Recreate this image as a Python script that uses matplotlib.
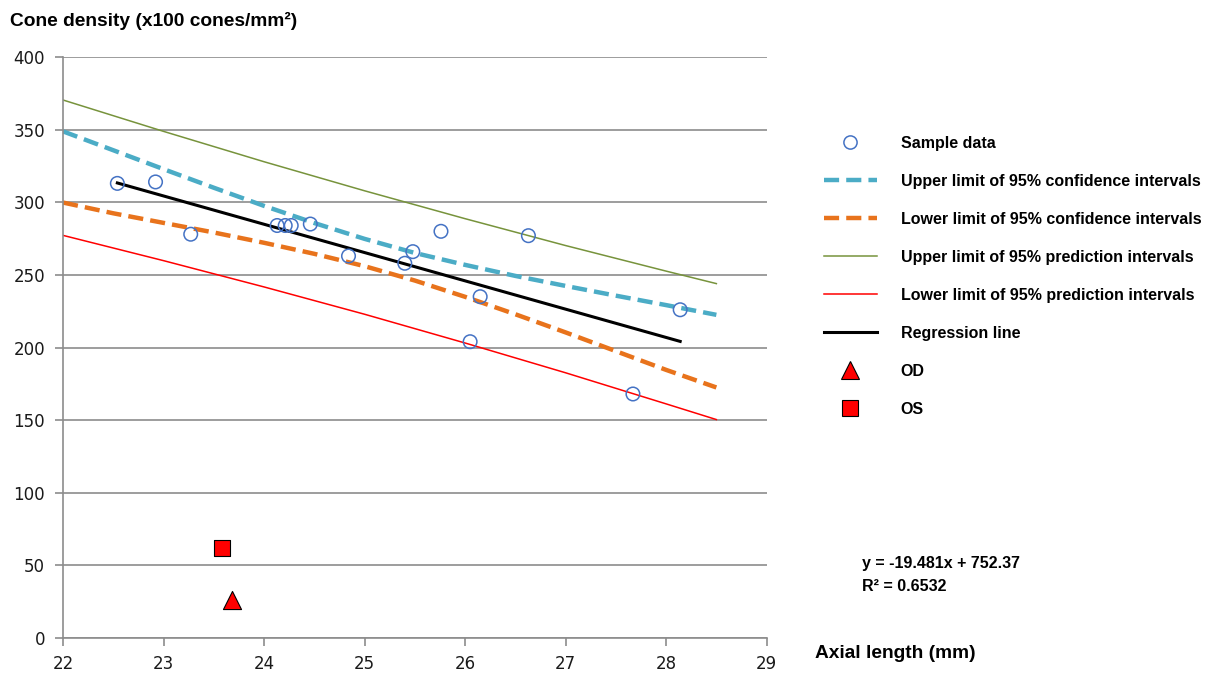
import numpy as np
import matplotlib
matplotlib.use("Agg")
import matplotlib.pyplot as plt
from matplotlib.lines import Line2D

plt.rcParams['font.family'] = ['Liberation Sans', 'DejaVu Sans']

# sample data
axial = [22.54, 22.92, 23.27, 24.13, 24.21, 24.27, 24.46, 24.84, 25.40, 25.48,
         25.76, 26.05, 26.15, 26.63, 27.67, 28.14]
density = [313, 314, 278, 284, 284, 284, 285, 263, 258, 266,
           280, 204, 235, 277, 168, 226]

# regression line end points
reg_x = [22.54, 28.14]
reg_y = [313.3, 204.2]

# confidence interval limits
ci_x = [22, 22.5, 23, 23.5, 24, 24.5, 25, 25.5, 26, 26.5, 27, 27.5, 28, 28.5]
ci_up = [348.8, 335.8, 322.8, 310.0, 297.5, 285.7, 274.8, 265.1, 256.9,
         249.3, 242.4, 235.7, 229.2, 222.5]
ci_low = [299.8, 292.4, 285.8, 279.2, 272.1, 264.5, 256.0, 246.1, 234.9,
          222.9, 210.4, 197.5, 184.6, 172.5]

# prediction interval limits
pi_x = [22, 23, 24, 25, 26, 27, 28, 28.5]
pi_up = [370.4, 348.8, 327.9, 307.9, 288.7, 270.2, 252.6, 244.0]
pi_low = [277.2, 259.8, 241.7, 222.9, 203.1, 182.6, 161.2, 150.4]

# the two eyes
od_x, od_y = [23.68], [26]
os_x, os_y = [23.58], [62]

c_blue = '#4472C4'
c_cyan = '#4BACC6'
c_orange = '#E8731C'
c_olive = '#77933C'
c_red = '#FF0000'
c_grey = '#8C8C8C'

fig = plt.figure(figsize=(12.13, 6.74), dpi=100)
ax = fig.add_axes([0.052, 0.0534, 0.580, 0.862])

ax.plot(pi_x, pi_up, color=c_olive, lw=1.1)
ax.plot(pi_x, pi_low, color=c_red, lw=1.1)
ax.plot(ci_x, ci_up, color=c_cyan, lw=3.2, dashes=(3.4, 1.6))
ax.plot(ci_x, ci_low, color=c_orange, lw=3.2, dashes=(3.4, 1.6))
ax.plot(reg_x, reg_y, color='black', lw=2.2)
ax.scatter(axial, density, s=95, facecolors='none', edgecolors=c_blue, lw=1.1, zorder=5)
ax.scatter(od_x, od_y, marker='^', s=170, color=c_red, edgecolors='black', lw=0.8, zorder=6)
ax.scatter(os_x, os_y, marker='s', s=140, color=c_red, edgecolors='black', lw=0.8, zorder=6)

ax.set_xlim(22, 29)
ax.set_ylim(0, 400)
ax.set_xticks(range(22, 30))
ax.set_yticks(range(0, 401, 50))
ax.yaxis.grid(True, color=c_grey, lw=1.2)
ax.set_axisbelow(True)
for s in ['top', 'right']:
    ax.spines[s].set_visible(False)
for s in ['left', 'bottom']:
    ax.spines[s].set_color(c_grey)
    ax.spines[s].set_linewidth(1.2)
ax.tick_params(axis='both', colors=c_grey, labelcolor='#1a1a1a', length=6, width=1.2)
ax.tick_params(axis='x', pad=6)
ax.tick_params(axis='y', pad=7)
for lab in ax.get_xticklabels() + ax.get_yticklabels():
    lab.set_family('DejaVu Sans')
    lab.set_fontsize(12)

fig.text(0.008, 0.969, 'Cone density (x100 cones/mm²)', fontsize=13.8, fontweight='bold', va='center')
fig.text(0.672, 0.031, 'Axial length (mm)', fontsize=13.8, fontweight='bold', va='center')

handles = [
    Line2D([], [], ls='none', marker='o', ms=9.5, mfc='none', mec=c_blue, mew=1.1),
    Line2D([], [], color=c_cyan, lw=3.2, dashes=(3.4, 1.6)),
    Line2D([], [], color=c_orange, lw=3.2, dashes=(3.4, 1.6)),
    Line2D([], [], color=c_olive, lw=1.1),
    Line2D([], [], color=c_red, lw=1.1),
    Line2D([], [], color='black', lw=2.2),
    Line2D([], [], ls='none', marker='^', ms=12.5, mfc=c_red, mec='black', mew=0.8),
    Line2D([], [], ls='none', marker='s', ms=11.5, mfc=c_red, mec='black', mew=0.8),
]
labels = ['Sample data',
          'Upper limit of 95% confidence intervals',
          'Lower limit of 95% confidence intervals',
          'Upper limit of 95% prediction intervals',
          'Lower limit of 95% prediction intervals',
          'Regression line', 'OD', 'OS']
fig.legend(handles, labels, loc='upper left', bbox_to_anchor=(0.674, 0.808),
           frameon=False, prop={'weight': 'bold', 'size': 11.5},
           handlelength=3.3, handletextpad=1.5, labelspacing=1.44, borderaxespad=0)

fig.text(0.711, 0.147, 'y = -19.481x + 752.37\nR² = 0.6532', fontsize=11.5,
         fontweight='bold', va='center', linespacing=1.65)

fig.savefig('out.png', dpi=100)
